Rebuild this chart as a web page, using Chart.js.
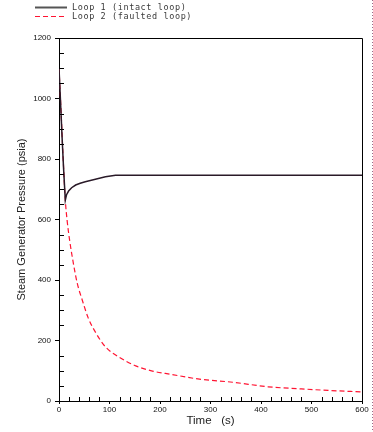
<!DOCTYPE html>
<html>
<head>
<meta charset="utf-8">
<script src="https://cdn.jsdelivr.net/npm/chart.js@4/dist/chart.umd.min.js"></script>
<style>
    html, body { margin: 0; padding: 0; background: #fff; }
    #wrap { width: 373px; height: 432px; position: relative; }
</style>
</head>
<body>
<div id="wrap"><canvas id="chart" width="373" height="432"></canvas></div>
<script>
// Loop 1 (intact loop) - time (s) and pressure (psia)
const loop1Time = [0, 3, 6, 9, 12.5, 15, 19, 25, 33, 42, 52, 62, 72, 82, 92, 102, 112, 200, 300, 400, 500, 600];
const loop1Pressure = [1100, 990, 875, 770, 664, 682, 694, 705, 714, 720, 725, 729, 733, 737, 741, 744, 746, 746, 746, 746, 746, 746];

// Loop 2 (faulted loop)
const loop2Time = [0, 4, 8, 12.5, 16, 21, 29, 36, 46, 58, 73, 92, 119, 152, 185, 222, 275, 344, 414, 480, 533, 600];
const loop2Pressure = [1100, 960, 810, 664, 598, 532, 450, 390, 334, 274, 225, 179, 145, 116, 99, 88, 73, 62, 47, 40, 35, 30];

const seriesLabels = ['Loop 1 (intact loop)', 'Loop 2 (faulted loop)'];
const xTickValues = [0, 100, 200, 300, 400, 500, 600];
const yTickValues = [0, 200, 400, 600, 800, 1000, 1200];

const labelFont = '"Liberation Sans", Arial, sans-serif';

function toPoints(xs, ys) {
    return xs.map((x, i) => ({ x: x, y: ys[i] }));
}

// Frame, minor ticks, legend and page edge
const framePlugin = {
    id: 'frame',
    afterDraw(chart) {
        const ctx = chart.ctx;
        const area = chart.chartArea;
        const xs = chart.scales.x;
        const ys = chart.scales.y;
        ctx.save();

        // top + right border
        ctx.strokeStyle = '#000';
        ctx.lineWidth = 1;
        ctx.beginPath();
        ctx.moveTo(area.left, area.top + 0.5);
        ctx.lineTo(area.right + 0.5, area.top + 0.5);
        ctx.lineTo(area.right + 0.5, area.bottom);
        ctx.stroke();

        // minor ticks pointing inward
        ctx.beginPath();
        for (let v = 50; v < 1200; v += 50) {
            if (v % 200 === 0) continue;
            const py = Math.round(ys.getPixelForValue(v)) + 0.5;
            ctx.moveTo(area.left, py);
            ctx.lineTo(area.left + 5, py);
        }
        for (let t = 20; t < 600; t += 20) {
            if (t % 100 === 0) continue;
            const px = Math.round(xs.getPixelForValue(t)) + 0.5;
            ctx.moveTo(px, area.bottom);
            ctx.lineTo(px, area.bottom - 4);
        }
        ctx.stroke();

        // legend
        chart.data.datasets.forEach((ds, i) => {
            const y = 7.5 + i * 9;
            ctx.strokeStyle = i === 0 ? '#555' : ds.borderColor;
            ctx.lineWidth = i === 0 ? 2 : 1.2;
            ctx.setLineDash(ds.borderDash || []);
            ctx.beginPath();
            ctx.moveTo(35, y);
            ctx.lineTo(67, y);
            ctx.stroke();
            ctx.setLineDash([]);
            ctx.fillStyle = '#3a3a3a';
            ctx.font = '8.5px "DejaVu Sans Mono", monospace';
            if ('letterSpacing' in ctx) ctx.letterSpacing = '0.6px';
            ctx.textBaseline = 'middle';
            ctx.textAlign = 'left';
            ctx.fillText(ds.label, 72, y);
            if ('letterSpacing' in ctx) ctx.letterSpacing = '0px';
        });

        // dotted page edge
        ctx.strokeStyle = '#9a6a8a';
        ctx.lineWidth = 1;
        ctx.setLineDash([1, 2]);
        ctx.beginPath();
        ctx.moveTo(372.5, 0);
        ctx.lineTo(372.5, 432);
        ctx.stroke();
        ctx.restore();
    }
};

new Chart(document.getElementById('chart'), {
    type: 'line',
    data: {
        datasets: [
            {
                label: seriesLabels[0],
                data: toPoints(loop1Time, loop1Pressure),
                borderColor: '#2a1a28',
                borderWidth: 1.5,
                pointRadius: 0,
                tension: 0,
                order: 0
            },
            {
                label: seriesLabels[1],
                data: toPoints(loop2Time, loop2Pressure),
                borderColor: 'rgb(255, 20, 50)',
                borderWidth: 1.2,
                borderDash: [5, 3],
                pointRadius: 0,
                cubicInterpolationMode: 'monotone',
                order: 1
            }
        ]
    },
    options: {
        responsive: false,
        animation: false,
        devicePixelRatio: 1,
        layout: {
            padding: { left: 0, top: 38, right: 11, bottom: 0 }
        },
        plugins: {
            legend: { display: false },
            tooltip: { enabled: false }
        },
        scales: {
            x: {
                type: 'linear',
                min: 0,
                max: 600,
                afterBuildTicks(scale) {
                    scale.ticks = xTickValues.map(v => ({ value: v }));
                },
                afterFit(scale) { scale.height = 31; },
                ticks: {
                    color: '#111',
                    padding: 1,
                    maxRotation: 0,
                    font: { family: labelFont, size: 8 },
                    callback: v => String(v)
                },
                grid: {
                    drawOnChartArea: false,
                    tickLength: 3,
                    color: '#000'
                },
                border: { color: '#000', width: 1 },
                title: {
                    display: true,
                    text: 'Time   (s)',
                    color: '#222',
                    font: { family: labelFont, size: 11.5 },
                    padding: { top: 0, bottom: 4 }
                }
            },
            y: {
                min: 0,
                max: 1200,
                afterBuildTicks(scale) {
                    scale.ticks = yTickValues.map(v => ({ value: v }));
                },
                afterFit(scale) { scale.width = 59; },
                ticks: {
                    color: '#111',
                    padding: 4,
                    font: { family: labelFont, size: 8 },
                    callback: v => String(v)
                },
                grid: {
                    drawOnChartArea: false,
                    tickLength: 4,
                    color: '#000'
                },
                border: { color: '#000', width: 1 },
                title: {
                    display: true,
                    text: 'Steam Generator Pressure (psia)',
                    color: '#222',
                    font: { family: labelFont, size: 11 },
                    padding: { top: 15, bottom: 0 }
                }
            }
        }
    },
    plugins: [framePlugin]
});
</script>
</body>
</html>
